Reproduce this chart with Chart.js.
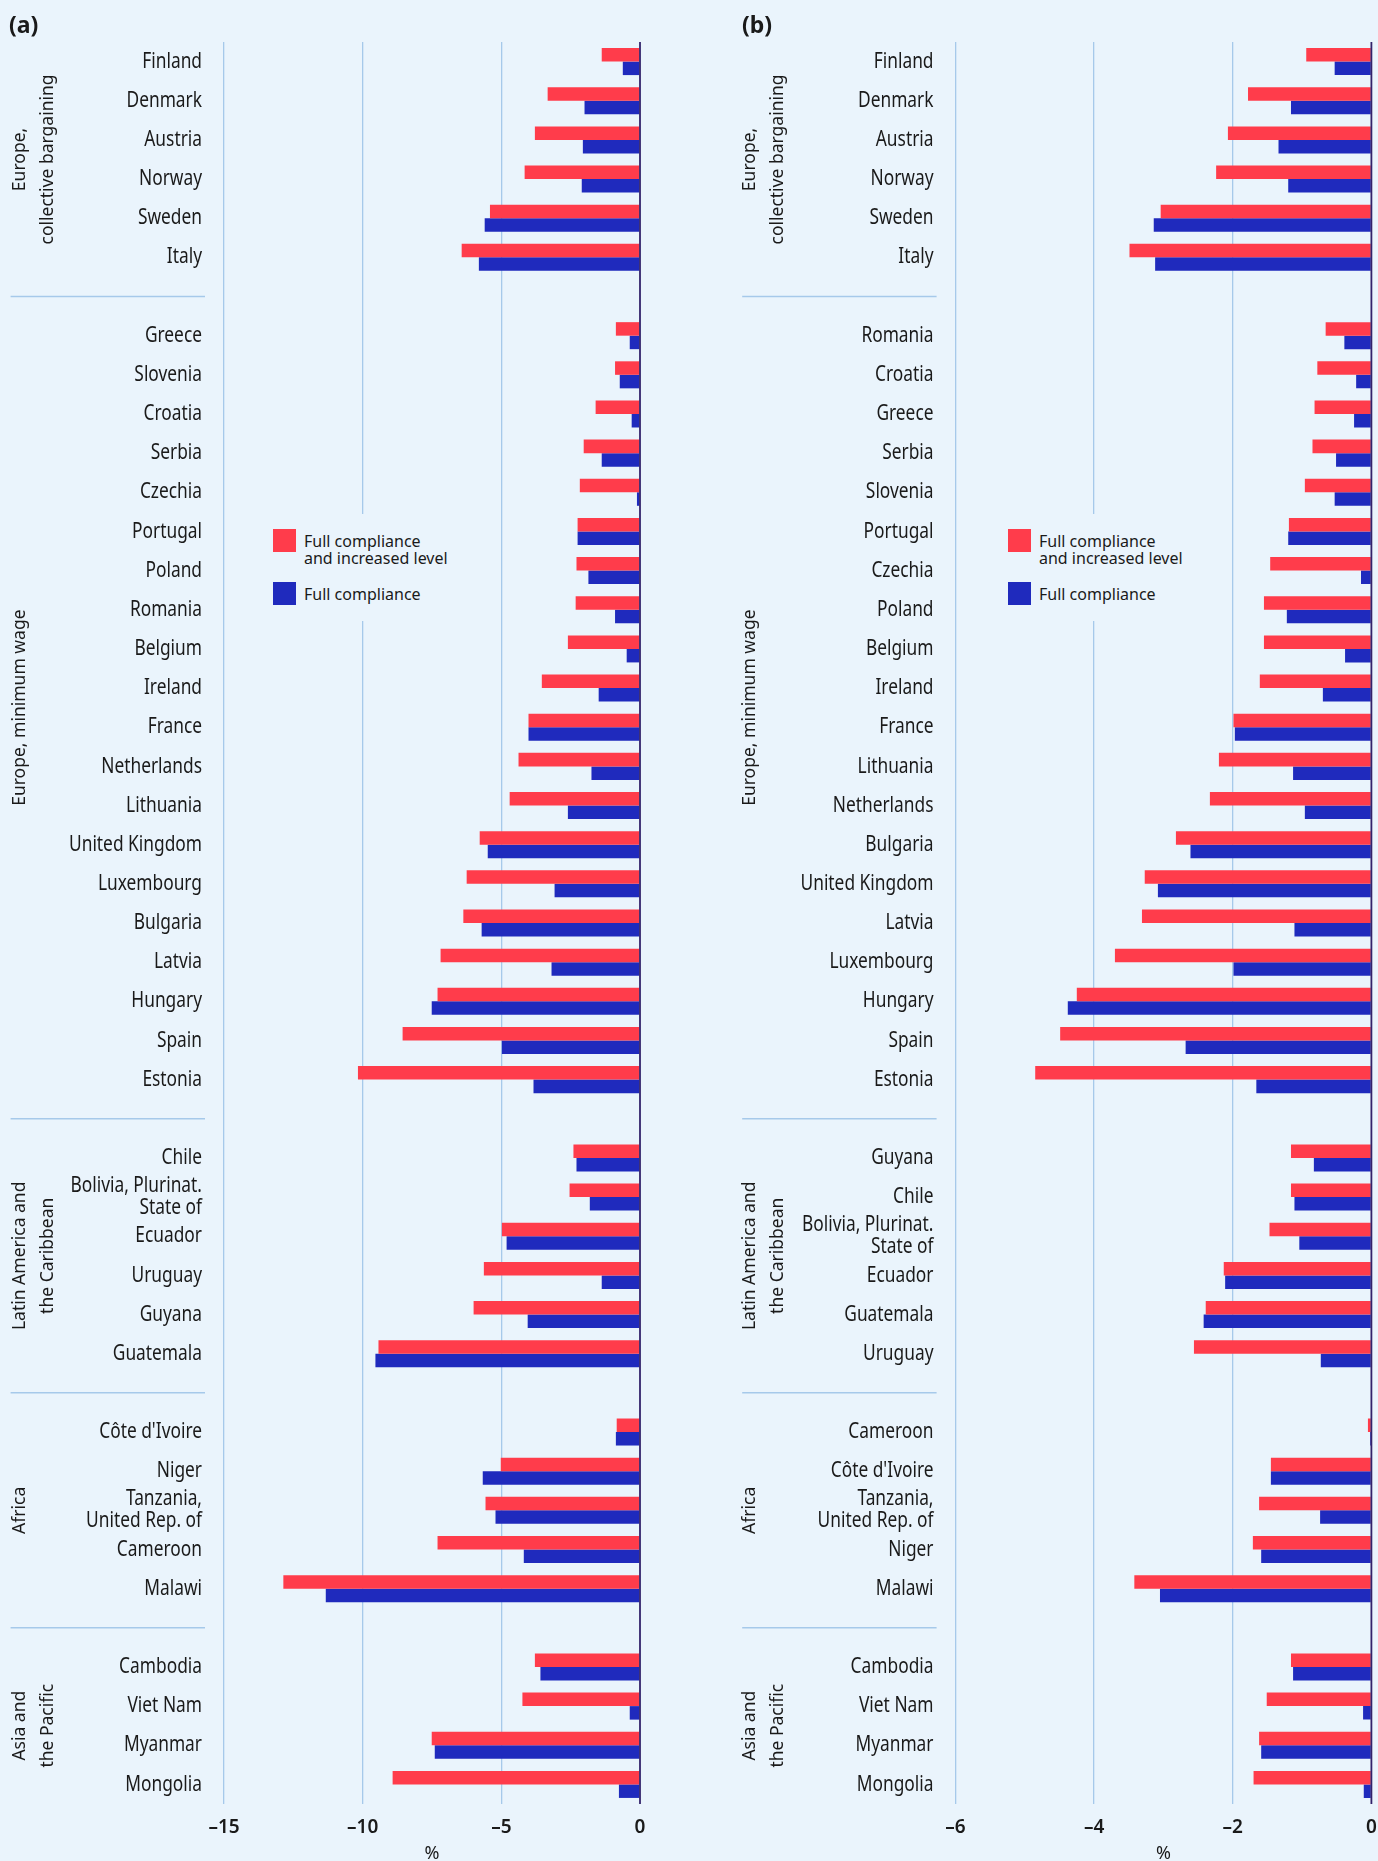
<!DOCTYPE html>
<html>
<head>
<meta charset="utf-8">
<script src="https://cdn.jsdelivr.net/npm/chart.js@4.4.1/dist/chart.umd.min.js"></script>
<style>
  html, body { margin: 0; padding: 0; background: #eaf4fc; }
  body { width: 1378px; height: 1861px; position: relative; overflow: hidden;
         font-family: 'Noto Sans', sans-serif; color: #1a1a1a; }
  canvas { position: absolute; top: 0; }
  .tag { position: absolute; top: 13px; font-weight: 700; font-size: 23px; line-height: 23px; }
  .legend { position: absolute; top: 514px; width: 197px; height: 107px; background: #eaf4fc; }
  .sw { position: absolute; left: 10px; width: 23px; height: 23px; }
  .lt { position: absolute; left: 41px; font-size: 16px; line-height: 17.5px; white-space: nowrap; }
</style>
</head>
<body>
<canvas id="chartA" width="689" height="1861" style="left:0"></canvas>
<canvas id="chartB" width="689" height="1861" style="left:689px"></canvas>
<div class="tag" style="left:9px">(a)</div>
<div class="tag" style="left:742px">(b)</div>
<div class="legend" id="legendA" style="left:263px"></div>
<div class="legend" id="legendB" style="left:998px"></div>
<script>
const seriesNames = [['Full compliance', 'and increased level'], ['Full compliance']];
const axisTitle = '%';

const groupNames = [
  ['Europe,', 'collective bargaining'],
  ['Europe, minimum wage'],
  ['Latin America and', 'the Caribbean'],
  ['Africa'],
  ['Asia and', 'the Pacific'],
];
const groupSizes = [6, 20, 6, 5, 4];

// panel (a)
const countriesA = [
  'Finland', 'Denmark', 'Austria', 'Norway', 'Sweden', 'Italy',
  'Greece', 'Slovenia', 'Croatia', 'Serbia', 'Czechia', 'Portugal', 'Poland', 'Romania', 'Belgium', 'Ireland',
  'France', 'Netherlands', 'Lithuania', 'United Kingdom', 'Luxembourg', 'Bulgaria', 'Latvia', 'Hungary', 'Spain', 'Estonia',
  'Chile', ['Bolivia, Plurinat.', 'State of'], 'Ecuador', 'Uruguay', 'Guyana', 'Guatemala',
  "Côte d'Ivoire", 'Niger', ['Tanzania,', 'United Rep. of'], 'Cameroon', 'Malawi',
  'Cambodia', 'Viet Nam', 'Myanmar', 'Mongolia',
];
const increasedA = [
  -1.38, -3.33, -3.79, -4.16, -5.41, -6.43,
  -0.87, -0.90, -1.60, -2.03, -2.17, -2.25, -2.29, -2.32, -2.60, -3.54,
  -4.02, -4.38, -4.70, -5.78, -6.25, -6.37, -7.19, -7.30, -8.56, -10.17,
  -2.40, -2.54, -4.98, -5.63, -6.00, -9.43,
  -0.84, -5.02, -5.57, -7.30, -12.86,
  -3.79, -4.24, -7.51, -8.92,
];
const complianceA = [
  -0.62, -2.00, -2.06, -2.10, -5.60, -5.81,
  -0.37, -0.73, -0.30, -1.38, -0.11, -2.25, -1.86, -0.90, -0.48, -1.49,
  -4.02, -1.75, -2.60, -5.49, -3.08, -5.71, -3.19, -7.51, -4.98, -3.84,
  -2.29, -1.81, -4.81, -1.38, -4.05, -9.54,
  -0.87, -5.67, -5.21, -4.19, -11.33,
  -3.59, -0.37, -7.40, -0.76,
];
const ticksA = [-15, -10, -5, 0];

// panel (b)
const countriesB = [
  'Finland', 'Denmark', 'Austria', 'Norway', 'Sweden', 'Italy',
  'Romania', 'Croatia', 'Greece', 'Serbia', 'Slovenia', 'Portugal', 'Czechia', 'Poland', 'Belgium', 'Ireland',
  'France', 'Lithuania', 'Netherlands', 'Bulgaria', 'United Kingdom', 'Latvia', 'Luxembourg', 'Hungary', 'Spain', 'Estonia',
  'Guyana', 'Chile', ['Bolivia, Plurinat.', 'State of'], 'Ecuador', 'Guatemala', 'Uruguay',
  'Cameroon', "Côte d'Ivoire", ['Tanzania,', 'United Rep. of'], 'Niger', 'Malawi',
  'Cambodia', 'Viet Nam', 'Myanmar', 'Mongolia',
];
const increasedB = [
  -0.94, -1.78, -2.07, -2.24, -3.04, -3.49,
  -0.66, -0.78, -0.82, -0.85, -0.96, -1.19, -1.46, -1.55, -1.55, -1.61,
  -1.99, -2.20, -2.33, -2.82, -3.27, -3.31, -3.70, -4.25, -4.49, -4.85,
  -1.16, -1.16, -1.47, -2.13, -2.39, -2.56,
  -0.05, -1.45, -1.62, -1.71, -3.42,
  -1.16, -1.51, -1.62, -1.70,
];
const complianceB = [
  -0.53, -1.16, -1.34, -1.20, -3.14, -3.12,
  -0.39, -0.22, -0.25, -0.51, -0.53, -1.20, -0.15, -1.22, -0.38, -0.70,
  -1.97, -1.13, -0.96, -2.61, -3.08, -1.11, -1.99, -4.38, -2.68, -1.66,
  -0.83, -1.11, -1.04, -2.11, -2.42, -0.73,
  -0.02, -1.45, -0.74, -1.59, -3.05,
  -1.13, -0.12, -1.59, -0.11,
];
const ticksB = [-6, -4, -2, 0];

const RED = '#ff3c4b';
const BLUE = '#1f2abd';
const GRID = '#a6c9ea';
const ZERO = '#33236b';
const TEXT = '#1a1a1a';
const LABEL_FONT = "21.5px 'Noto Sans'";

// country names are set in a condensed cut; squeeze Noto Sans to the same width
const labelSquash = (() => {
  const ctx = document.createElement('canvas').getContext('2d');
  ctx.font = LABEL_FONT;
  return Math.min(1, 133 / ctx.measureText('United Kingdom').width);
})();

const fmtTick = v => (v < 0 ? '\u2013' + (-v) : String(v));

// put an empty category between the regional groups
function withGaps(list, filler) {
  const out = [];
  let i = 0;
  groupSizes.forEach((n, g) => {
    out.push(...list.slice(i, i + n));
    i += n;
    if (g < groupSizes.length - 1) out.push(filler);
  });
  return out;
}

const decor = {
  id: 'decor',
  afterDatasetsDraw(chart, args, opts) {
    const { ctx, chartArea, scales: { x, y } } = chart;
    ctx.save();
    const zx = x.getPixelForValue(0);
    ctx.strokeStyle = ZERO;
    ctx.lineWidth = 1.8;
    ctx.beginPath();
    ctx.moveTo(zx, chartArea.top);
    ctx.lineTo(zx, chartArea.bottom);
    ctx.stroke();

    ctx.fillStyle = TEXT;

    // value axis labels and unit
    ctx.textAlign = 'center';
    ctx.textBaseline = 'alphabetic';
    ctx.font = "600 19px 'Noto Sans'";
    opts.ticks.forEach(v => ctx.fillText(fmtTick(v), x.getPixelForValue(v), chartArea.bottom + 28.5));
    ctx.font = "18px 'Noto Sans'";
    ctx.fillText(axisTitle, (chartArea.left + chartArea.right) / 2, chartArea.bottom + 55);

    // category names
    ctx.font = LABEL_FONT;
    ctx.textAlign = 'right';
    ctx.textBaseline = 'middle';
    chart.data.labels.forEach((label, i) => {
      const lines = Array.isArray(label) ? label : [label];
      const yc = y.getPixelForValue(i);
      lines.forEach((line, k) => {
        ctx.save();
        ctx.translate(chartArea.left - 22, yc + (k - (lines.length - 1) / 2) * 22);
        ctx.scale(labelSquash, 1);
        ctx.fillText(line, 0, 0);
        ctx.restore();
      });
    });

    // region names and dividers
    ctx.font = "17.5px 'Noto Sans'";
    ctx.textAlign = 'center';
    ctx.textBaseline = 'alphabetic';
    ctx.strokeStyle = GRID;
    ctx.lineWidth = 1.5;
    let idx = 0;
    groupSizes.forEach((n, g) => {
      const yc = (y.getPixelForValue(idx) + y.getPixelForValue(idx + n - 1)) / 2;
      groupNames[g].forEach((line, k) => {
        ctx.save();
        ctx.translate(opts.textX[k], yc);
        ctx.rotate(-Math.PI / 2);
        ctx.fillText(line, 0, 0);
        ctx.restore();
      });
      idx += n;
      if (g < groupSizes.length - 1) {
        const sy = y.getPixelForValue(idx);
        ctx.beginPath();
        ctx.moveTo(opts.sepX[0], sy);
        ctx.lineTo(opts.sepX[1], sy);
        ctx.stroke();
        idx += 1;
      }
    });
    ctx.restore();
  },
};

function makeChart(id, countries, increased, compliance, ticks, cfg) {
  return new Chart(document.getElementById(id), {
    type: 'bar',
    data: {
      labels: withGaps(countries, ''),
      datasets: [
        { label: seriesNames[0].join(' '), data: withGaps(increased, null), backgroundColor: RED },
        { label: seriesNames[1].join(' '), data: withGaps(compliance, null), backgroundColor: BLUE },
      ],
    },
    options: {
      indexAxis: 'y',
      responsive: false,
      maintainAspectRatio: false,
      animation: false,
      events: [],
      categoryPercentage: 0.69,
      barPercentage: 1,
      layout: { padding: { top: 42, right: cfg.right, left: 0, bottom: 0 } },
      scales: {
        x: {
          min: ticks[0],
          max: ticks[ticks.length - 1],
          afterBuildTicks: s => { s.ticks = ticks.map(v => ({ value: v })); },
          afterFit: s => { s.height = 57; s.paddingLeft = 0; s.paddingRight = 0; },
          grid: {
            color: c => (c.tick && c.tick.value === 0 ? 'rgba(0,0,0,0)' : GRID),
            lineWidth: 1.3,
            drawTicks: false,
          },
          border: { display: false },
          ticks: { display: false },
        },
        y: {
          grid: { display: false, drawTicks: false },
          border: { display: false },
          ticks: { display: false, autoSkip: false },
          afterFit: s => { s.width = cfg.axisWidth; s.paddingTop = 0; s.paddingBottom = 0; },
        },
      },
      plugins: {
        legend: { display: false },
        tooltip: { enabled: false },
        decor: { textX: cfg.textX, sepX: cfg.sepX, ticks },
      },
    },
    plugins: [decor],
  });
}

function makeLegend(id) {
  const box = document.getElementById(id);
  [RED, BLUE].forEach((color, i) => {
    const top = i === 0 ? 15 : 68;
    const sw = document.createElement('div');
    sw.className = 'sw';
    sw.style.top = top + 'px';
    sw.style.background = color;
    const txt = document.createElement('div');
    txt.className = 'lt';
    txt.style.top = (top + 3.7) + 'px';
    txt.innerHTML = seriesNames[i].join('<br>');
    box.appendChild(sw);
    box.appendChild(txt);
  });
}

makeChart('chartA', countriesA, increasedA, complianceA, ticksA,
  { right: 49, axisWidth: 224, textX: [24.5, 52.5], sepX: [10.6, 205] });
makeChart('chartB', countriesB, increasedB, complianceB, ticksB,
  { right: 6.6, axisWidth: 266.5, textX: [65.8, 93.8], sepX: [53.2, 247.6] });
makeLegend('legendA');
makeLegend('legendB');
</script>
</body>
</html>
